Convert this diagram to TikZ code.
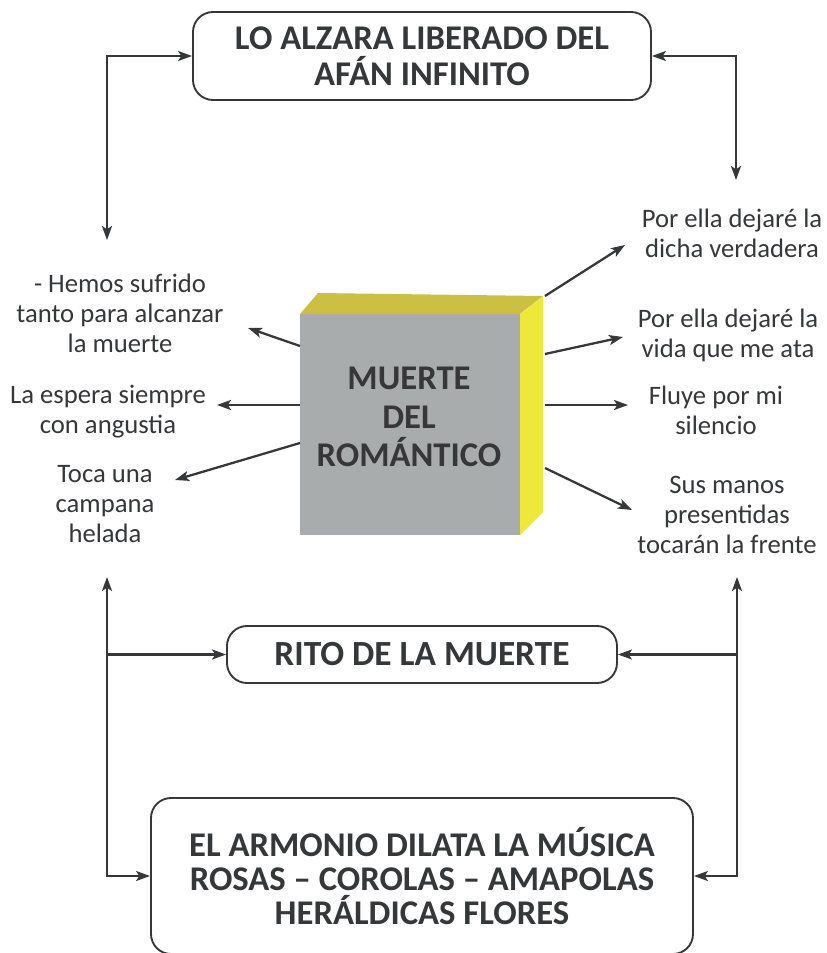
\documentclass[tikz,border=0pt]{standalone}
\usepackage{fontspec}
\setmainfont{Carlito}
\usetikzlibrary{arrows.meta}

\definecolor{ink}{HTML}{363739}
\definecolor{cubefront}{HTML}{A9ACAD}
\definecolor{cubetop}{HTML}{CBC043}
\definecolor{cuberight}{HTML}{EEE83C}

\begin{document}
\begin{tikzpicture}[
  x=0.75pt, y=-0.75pt,
  >={Stealth[length=10.5pt, width=7.5pt, inset=2.5pt]},
  every node/.style={text=ink, align=center, inner sep=0pt,
                     font=\fontsize{20}{22.5}\selectfont},
  link/.style={ink, line width=1.7pt, ->},
  twoway/.style={ink, line width=1.7pt, <->},
  title/.style={draw=ink, line width=1.4pt, rounded corners=15pt,
                font=\bfseries\fontsize{26}{27}\selectfont},
]

\useasboundingbox (0,0) rectangle (826,953);

% ================================================================
% Title boxes
% ================================================================
\node[title, minimum width=343.5pt, minimum height=66pt] (alzara) at (422,56)
  {LO ALZARA LIBERADO DEL\\AFÁN INFINITO};
\node[title, minimum width=292.5pt, minimum height=42.75pt,
      font=\bfseries\fontsize{26.5}{27}\selectfont] (rito) at (422,654.5)
  {RITO DE LA MUERTE};
\node[title, minimum width=406.5pt, minimum height=117pt,
      font=\bfseries\fontsize{26}{25.5}\selectfont] (armonio) at (422,876)
  {EL ARMONIO DILATA LA MÚSICA\\ROSAS – COROLAS – AMAPOLAS\\HERÁLDICAS FLORES};

% ================================================================
% Cube
% ================================================================
\coordinate (FNW) at (300,314);
\coordinate (FNE) at (520,314);
\coordinate (FSE) at (520,535);
\coordinate (BNW) at (318,293);
\coordinate (BNE) at (543,296);
\coordinate (BSE) at (543,512);

\fill[cubefront] (FNW) rectangle (FSE);
\fill[cubetop]   (FNW) -- (BNW) -- (BNE) -- (FNE) -- cycle;
\fill[cuberight] (FNE) -- (BNE) -- (BSE) -- (FSE) -- cycle;

\node[font=\bfseries\fontsize{26}{29}\selectfont] (romantico) at (409,417)
  {MUERTE\\DEL\\ROMÁNTICO};

% ================================================================
% Verses
% ================================================================
\node (hemos)    at (120,313) {- Hemos sufrido\\tanto para alcanzar\\la muerte};
\node (espera)   at (108,412) {La espera siempre\\con angustia};
\node (toca)     at (105,504) {Toca una\\campana\\helada};
\node (dicha)    at (732,233) {Por ella dejaré la\\dicha verdadera};
\node (vida)     at (728,335) {Por ella dejaré la\\vida que me ata};
\node (fluye)    at (716,410) {Fluye por mi\\silencio};
\node (manos)    at (727,515) {Sus manos\\presentidas\\tocarán la frente};

% --- Arrows out of the cube ---
\coordinate (cw1) at (300,346);  \coordinate (tw1) at (248,328);
\coordinate (cw2) at (300,405);  \coordinate (tw2) at (217,405);
\coordinate (cw3) at (300,443);  \coordinate (tw3) at (175,480);
\coordinate (ce1) at (545,296);  \coordinate (te1) at (625,245);
\coordinate (ce2) at (545,354);  \coordinate (te2) at (623,337);
\coordinate (ce3) at (545,405);  \coordinate (te3) at (628,405);
\coordinate (ce4) at (545,468);  \coordinate (te4) at (632,510);

\foreach \from/\to in {cw1/tw1, cw2/tw2, cw3/tw3, ce1/te1, ce2/te2, ce3/te3, ce4/te4}
  \draw[link] (\from) -- (\to);

% ================================================================
% Frame connectors
% ================================================================
\coordinate (upleft)    at (107,240);
\coordinate (upright)   at (736,180);
\coordinate (downleft)  at (107,577);
\coordinate (downright) at (737,577);

\draw[twoway] (upleft)  |- (alzara.west);
\draw[twoway] (upright) |- (alzara.east);

\draw[twoway] (downleft)  |- (armonio.west);
\draw[twoway] (downright) |- (armonio.east);
\draw[link] (downleft |- rito.west)  -- (rito.west);
\draw[link] (downright |- rito.east) -- (rito.east);

\end{tikzpicture}
\end{document}
